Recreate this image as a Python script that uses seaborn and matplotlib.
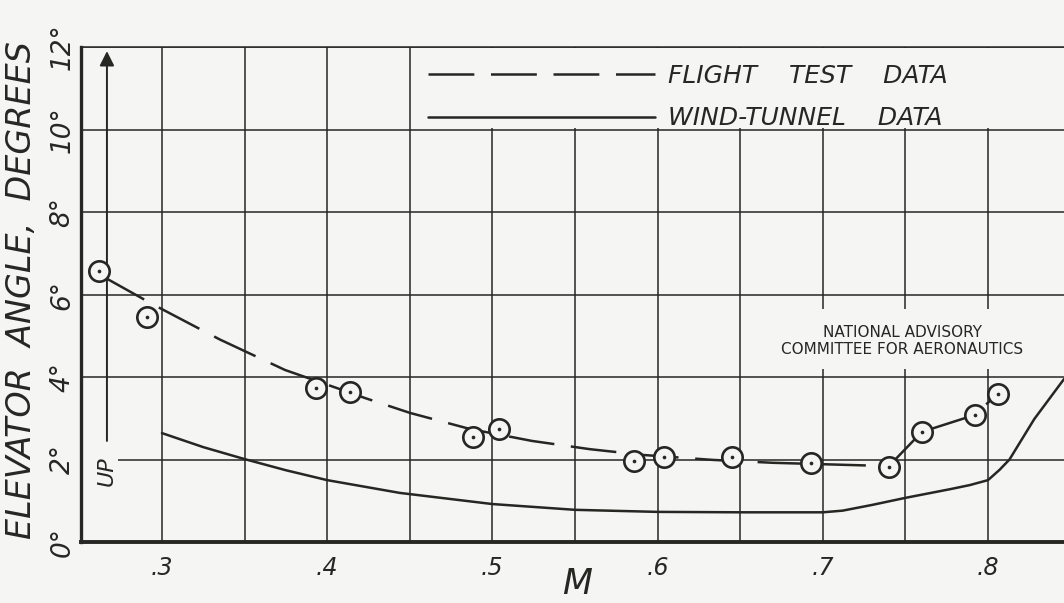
import matplotlib
matplotlib.use("Agg")
import matplotlib.pyplot as plt
from matplotlib.patches import Rectangle
import seaborn as sns

# Flight-test points (Mach number, elevator angle in degrees up)
FLIGHT_M = [0.262, 0.291, 0.393, 0.414, 0.488, 0.504, 0.586, 0.604,
            0.645, 0.693, 0.740, 0.760, 0.792, 0.806]
FLIGHT_ANGLE = [6.57, 5.45, 3.73, 3.64, 2.55, 2.74, 1.96, 2.06,
                2.06, 1.92, 1.82, 2.67, 3.08, 3.60]

# Faired curve through the flight-test points
FAIRED_M = [0.265, 0.295, 0.335, 0.3745, 0.4096, 0.4229, 0.4501, 0.4864,
            0.5240, 0.5591, 0.5912, 0.6335, 0.6699, 0.740, 0.760, 0.792, 0.806]
FAIRED_ANGLE = [6.42, 5.75, 4.91, 4.17, 3.68, 3.49, 3.13, 2.74,
                2.45, 2.25, 2.11, 1.99, 1.92, 1.84, 2.67, 3.08, 3.60]

# Wind-tunnel curve
TUNNEL_M = [0.300, 0.325, 0.350, 0.375, 0.400, 0.444, 0.500, 0.550, 0.600,
            0.650, 0.700, 0.712, 0.730, 0.750, 0.777, 0.789, 0.800, 0.807,
            0.813, 0.828, 0.846]
TUNNEL_ANGLE = [2.64, 2.30, 2.01, 1.74, 1.50, 1.19, 0.92, 0.78, 0.73,
                0.72, 0.72, 0.76, 0.90, 1.07, 1.28, 1.38, 1.50, 1.75,
                2.00, 2.98, 3.95]

X_TICKS = [0.30, 0.35, 0.40, 0.45, 0.50, 0.55, 0.60, 0.65, 0.70, 0.75, 0.80]
X_TICK_LABELS = [".3", "", ".4", "", ".5", "", ".6", "", ".7", "", ".8"]
Y_TICKS = [0, 2, 4, 6, 8, 10, 12]
Y_TICK_LABELS = ["0°", "2°", "4°", "6°", "8°", "10°", "12°"]

SERIES_LABELS = ["FLIGHT    TEST    DATA", "WIND-TUNNEL    DATA"]
X_LABEL = "M"
Y_LABEL = "ELEVATOR  ANGLE,  DEGREES"
UP_LABEL = "UP"
AGENCY = "NATIONAL ADVISORY\nCOMMITTEE FOR AERONAUTICS"

BG = "#f5f5f3"
INK = "#262622"

sns.set_theme(style="white")
plt.rcParams.update({
    "font.family": ["DejaVu Sans"],
    "figure.facecolor": BG,
    "axes.facecolor": BG,
    "savefig.facecolor": BG,
    "lines.scale_dashes": False,
})

fig = plt.figure(figsize=(10.64, 6.03), dpi=100)
ax = fig.add_axes([81 / 1064, 1 - 542 / 603, 983 / 1064, 495 / 603])
ax.set_xlim(0.251, 0.846)
ax.set_ylim(0, 12)

# Grid
ax.set_axisbelow(True)
ax.set_xticks(X_TICKS)
ax.set_xticklabels(X_TICK_LABELS, fontsize=17, style="italic", color=INK)
ax.set_yticks(Y_TICKS)
ax.set_yticklabels(Y_TICK_LABELS, fontsize=19, style="italic", color=INK,
                   rotation=90, va="center")
ax.grid(True, color=INK, linewidth=1.1)
ax.tick_params(axis="both", length=0)
ax.tick_params(axis="x", pad=10)
ax.tick_params(axis="y", pad=4)

ax.spines["right"].set_visible(False)
ax.spines["top"].set_color(INK)
ax.spines["top"].set_linewidth(1.1)
ax.spines["left"].set_color(INK)
ax.spines["left"].set_linewidth(2.4)
ax.spines["bottom"].set_color(INK)
ax.spines["bottom"].set_linewidth(2.8)

# Blank areas of the sheet behind the key, the agency note and the "UP" mark
ax.add_patch(Rectangle((0.4515, 10.03), 0.5, 1.94, facecolor=BG,
                       edgecolor="none", zorder=1))
ax.add_patch(Rectangle((0.664, 4.2), 0.3, 1.45, facecolor=BG,
                       edgecolor="none", zorder=1))
ax.add_patch(Rectangle((0.2525, 1.0), 0.021, 1.42, facecolor=BG,
                       edgecolor="none", zorder=1))

# Curves
sns.lineplot(x=FAIRED_M, y=FAIRED_ANGLE, ax=ax, color=INK, linewidth=1.8,
             linestyle=(0, (33, 12)), estimator=None, sort=False,
             label=SERIES_LABELS[0], zorder=3)
sns.lineplot(x=TUNNEL_M, y=TUNNEL_ANGLE, ax=ax, color=INK, linewidth=1.8,
             estimator=None, sort=False, label=SERIES_LABELS[1], zorder=3)

# Flight-test points: open circles with a centre dot
sns.scatterplot(x=FLIGHT_M, y=FLIGHT_ANGLE, ax=ax, s=215, marker="o",
                color=BG, edgecolor=INK, linewidth=1.9, zorder=4, legend=False)
sns.scatterplot(x=FLIGHT_M, y=FLIGHT_ANGLE, ax=ax, s=7, marker="o",
                color=INK, linewidth=0, zorder=5, legend=False)

# Key
handles = ax.get_lines()[:2]
ax.legend(handles, SERIES_LABELS, loc="upper left",
          bbox_to_anchor=(0.353, 0.966), frameon=False,
          prop={"size": 18, "style": "italic"}, labelcolor=INK,
          handlelength=9.1, handletextpad=0.5, labelspacing=0.74,
          borderpad=0, borderaxespad=0)

# Direction arrow and "UP"
ax.annotate("", xy=(0.2667, 11.9), xytext=(0.2667, 2.45),
            arrowprops=dict(arrowstyle="-|>", color=INK, lw=1.4,
                            mutation_scale=22, shrinkA=0, shrinkB=0),
            zorder=3)
ax.text(0.2667, 1.72, UP_LABEL, rotation=90, ha="center", va="center",
        fontsize=16, style="italic", color=INK, zorder=3)

# Agency note
ax.text(0.748, 4.88, AGENCY, ha="center", va="center", fontsize=11,
        color=INK, linespacing=1.15, zorder=3)

# Axis titles
fig.text(22 / 1064, 1 - 290 / 603, Y_LABEL, rotation=90, ha="center",
         va="center", fontsize=24, style="italic", color=INK)
fig.text(577 / 1064, 1.5 / 603, X_LABEL, ha="center", va="bottom",
         fontsize=25, style="italic", color=INK)

fig.savefig("out.png", dpi=100)
